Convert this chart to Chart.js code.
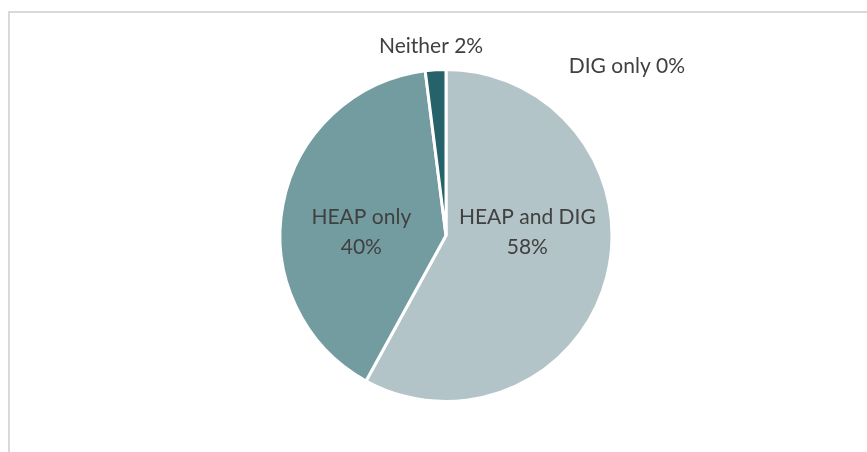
<!DOCTYPE html>
<html>
<head>
<meta charset="utf-8">
<script src="https://cdn.jsdelivr.net/npm/chart.js@4.4.1/dist/chart.umd.min.js"></script>
<style>
    html, body { margin: 0; padding: 0; background: #fff; overflow: hidden; }
    #wrap { position: relative; width: 867px; height: 452px; }
    #frame {
        position: absolute; left: 8px; top: 11px; width: 900px; height: 500px;
        border: 2px solid #d9d9d9; box-sizing: border-box;
    }
    #pieChart { position: absolute; left: 0; top: 0; }
</style>
</head>
<body>
<div id="wrap">
  <div id="frame"></div>
  <canvas id="pieChart" width="867" height="452"></canvas>
</div>
<script>
const categories = ['HEAP and DIG', 'HEAP only', 'Neither', 'DIG only'];
const shares = [58, 40, 2, 0];
const sliceColors = ['#b2c4c8', '#739ca1', '#266269', '#c9d6d9'];

// label placement relative to pie centre, in units of radius
const labelSpots = [
    { dx: 0.49, dy: -0.02, split: true },
    { dx: -0.51, dy: -0.02, split: true },
    { dx: -0.09, dy: -1.14, split: false },
    { dx: 1.09, dy: -1.02, split: false }
];

const pieLabels = {
    id: 'pieLabels',
    afterDatasetsDraw(chart) {
        const ctx = chart.ctx;
        const arcs = chart.getDatasetMeta(0).data;
        ctx.save();
        ctx.fillStyle = '#404040';
        ctx.font = '21px Lato, "Open Sans", sans-serif';
        ctx.textAlign = 'center';
        ctx.textBaseline = 'middle';
        arcs.forEach((arc, i) => {
            const r = arc.outerRadius;
            const x = arc.x + labelSpots[i].dx * r;
            const y = arc.y + labelSpots[i].dy * r;
            const pct = shares[i] + '%';
            if (labelSpots[i].split) {
                ctx.fillText(categories[i], x, y - 15);
                ctx.fillText(pct, x, y + 15);
            } else {
                ctx.fillText(categories[i] + ' ' + pct, x, y);
            }
        });
        ctx.restore();
    }
};

new Chart(document.getElementById('pieChart'), {
    type: 'pie',
    data: {
        labels: categories,
        datasets: [{
            data: shares,
            backgroundColor: sliceColors,
            borderColor: '#ffffff',
            borderWidth: 3
        }]
    },
    options: {
        responsive: false,
        animation: false,
        layout: { padding: { top: 68, bottom: 49, left: 25, right: 0 } },
        plugins: {
            legend: { display: false },
            tooltip: { enabled: false }
        }
    },
    plugins: [pieLabels]
});
</script>
</body>
</html>
